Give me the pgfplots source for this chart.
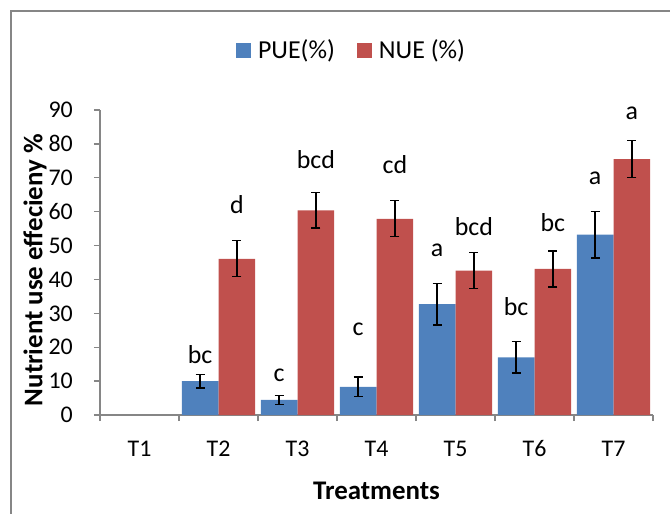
\documentclass[border=0pt]{standalone}
\usepackage{fontspec}
\setmainfont{Carlito}
\usepackage{pgfplots}
\pgfplotsset{compat=1.18}
\definecolor{pueblue}{HTML}{4F81BD}
\definecolor{nuered}{HTML}{C0504D}
\definecolor{axisgray}{HTML}{868686}
\begin{document}
\begin{tikzpicture}
\path[use as bounding box] (0bp,0bp) rectangle (670bp,-514bp);
\draw[axisgray, line width=1.5bp] (11bp,-514bp) -- (11bp,-11bp) -- (670bp,-11bp);
\begin{axis}[
  at={(100bp,-415bp)}, anchor=south west,
  width=553bp, height=305bp, scale only axis,
  xmin=-0.5, xmax=6.5, ymin=0, ymax=90,
  axis x line*=bottom, axis y line*=left,
  axis line style={draw=axisgray, line width=1.3bp},
  tick align=outside,
  major tick length=6bp,
  ytick={0,10,...,90},
  ytick style={draw=axisgray, line width=1.3bp},
  xtick={0,...,6},
  xticklabels={T1,T2,T3,T4,T5,T6,T7},
  xtick style={draw=none},
  extra x ticks={-0.5,0.5,...,6.5},
  extra x tick labels={},
  extra x tick style={xtick style={draw=axisgray, line width=1.3bp}},
  ticklabel style={font=\fontsize{24}{28}\selectfont},
  /pgf/number format/assume math mode=true,
  xticklabel style={anchor=center, yshift=-28bp},
  yticklabel style={anchor=east, inner sep=0pt, xshift=-21bp},
  xlabel={Treatments},
  xlabel style={font=\bfseries\fontsize{27}{32}\selectfont, at={(axis description cs:0.5,-0.249)}, anchor=center},
  ylabel={Nutrient use effecieny \%},
  ylabel style={font=\bfseries\fontsize{27}{32}\selectfont, at={(axis description cs:-0.1175,0.475)}, anchor=center},
  legend style={at={(0.4548,1.1967)}, anchor=center, draw=none, fill=none, legend columns=2,
    font=\fontsize{26}{30}\selectfont, /tikz/every even column/.append style={column sep=20bp},
    /tikz/every odd column/.append style={column sep=5bp}},
  legend image code/.code={\fill[#1] (0bp,-7.5bp) rectangle (15bp,7.5bp);},
  error bars/error bar style={black, line width=1.3bp},
  error bars/error mark options={rotate=90, mark size=4.5bp, line width=1.3bp, black},
]
\addplot[ybar, fill=pueblue, draw=none, bar width=0.465, bar shift=0,
  error bars/.cd, y dir=both, y explicit]
  coordinates {(0.7675,10.0) +- (0,2.0) (1.7675,4.5) +- (0,1.3) (2.7675,8.3) +- (0,2.9)
               (3.7675,32.7) +- (0,6.1) (4.7675,17.0) +- (0,4.6) (5.7675,53.2) +- (0,6.9)};
\addlegendentry{PUE(\%)}
\addplot[ybar, fill=nuered, draw=none, bar width=0.465, bar shift=0,
  error bars/.cd, y dir=both, y explicit]
  coordinates {(1.2325,46.1) +- (0,5.3) (2.2325,60.4) +- (0,5.2) (3.2325,57.9) +- (0,5.3)
               (4.2325,42.6) +- (0,5.3) (5.2325,43.1) +- (0,5.3) (6.2325,75.5) +- (0,5.4)};
\addlegendentry{NUE (\%)}
\addplot[draw=none, mark=none, forget plot, nodes near coords, point meta=explicit symbolic,
  every node near coord/.append style={anchor=base, inner sep=0pt, font=\fontsize{26}{30}\selectfont, text=black}]
  coordinates {
  (0.7675,15.25) [bc] (1.2325,59.5) [d]
  (1.7675,9.8) [c] (2.2325,72.8) [bcd]
  (2.7675,23.6) [c] (3.2325,71.3) [cd]
  (3.7675,46.7) [a] (4.2325,53.1) [bcd]
  (4.7675,29.5) [bc] (5.2325,54.1) [bc]
  (5.7675,67.9) [a] (6.2325,87.2) [a]};
\end{axis}
\end{tikzpicture}
\end{document}
